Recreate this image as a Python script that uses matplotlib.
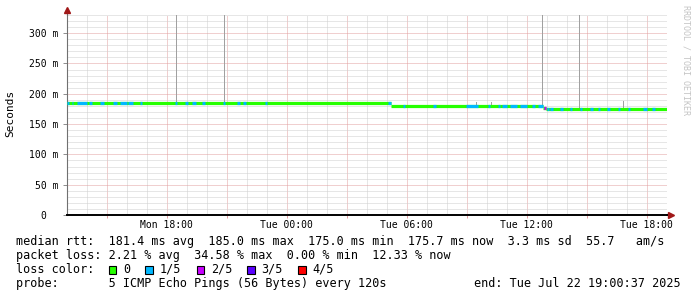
import numpy as np
import matplotlib
matplotlib.use('Agg')
import matplotlib.pyplot as plt
from matplotlib.patches import Rectangle
from matplotlib.ticker import MultipleLocator

# hours since Mon 13:00, median rtt in ms
seg_start = [0.0, 16.2, 23.8, 23.95]
seg_end = [16.2, 23.8, 23.95, 30.0]
seg_rtt = [185.0, 179.8, 177.0, 175.2]

# intervals (hours) where 1 of 5 / 2 of 5 pings were lost
loss_1of5 = [(0.0, 0.1), (0.25, 0.3), (0.5, 1.0), (1.1, 1.25), (1.65, 1.85),
             (2.3, 2.5), (2.65, 3.0), (3.05, 3.3), (3.65, 3.75), (5.4, 5.5),
             (5.9, 6.05), (6.25, 6.45), (6.75, 6.9), (7.8, 7.9), (8.5, 8.65),
             (8.8, 8.95), (9.9, 10.0), (16.05, 16.2), (16.8, 16.9), (18.3, 18.45),
             (19.95, 20.55), (21.05, 21.15), (21.55, 21.65), (21.75, 22.0),
             (22.15, 22.5), (22.65, 23.0), (23.25, 23.4), (23.55, 23.8),
             (24.0, 24.1), (24.15, 24.3), (24.65, 24.8), (25.15, 25.25),
             (25.65, 25.75), (26.15, 26.3), (26.55, 26.65), (27.0, 27.15),
             (27.55, 27.65), (28.05, 28.15), (28.8, 29.0), (29.25, 29.4)]
loss_2of5 = [(23.85, 23.95)]

# smoke (spread of the pings)
smoke_hour = [5.5, 7.9, 20.5, 21.25, 23.8, 25.65, 27.85]
smoke_top = [330, 330, 186.5, 186.0, 330, 330, 188.0]

tick_hours = [5, 11, 17, 23, 29]
tick_labels = ['Mon 18:00', 'Tue 00:00', 'Tue 06:00', 'Tue 12:00', 'Tue 18:00']
y_ticks = [0, 50, 100, 150, 200, 250, 300]
y_labels = ['0  ', '50 m', '100 m', '150 m', '200 m', '250 m', '300 m']

loss_names = ['0', '1/5', '2/5', '3/5', '4/5']
loss_colors = ['#26ff00', '#00b8ff', '#c800ff', '#5a00ff', '#ff0000']

line_rtt = 'median rtt:  181.4 ms avg  185.0 ms max  175.0 ms min  175.7 ms now  3.3 ms sd  55.7   am/s'
line_loss = 'packet loss: 2.21 % avg  34.58 % max  0.00 % min  12.33 % now'
line_probe = 'probe:       5 ICMP Echo Pings (56 Bytes) every 120s'
line_end = 'end: Tue Jul 22 19:00:37 2025'

W, H = 697, 297
MONO = 'DejaVu Sans Mono'


def rtt_at(h):
    for s, e, v in zip(seg_start, seg_end, seg_rtt):
        if s <= h <= e:
            return v
    return seg_rtt[-1]


def main():
    fig = plt.figure(figsize=(W / 100, H / 100), dpi=100)
    fig.patch.set_facecolor('white')
    ax = fig.add_axes([66.5 / W, (H - 215) / H, 600 / W, 200 / H])
    ax.set_xlim(0, 30)
    ax.set_ylim(0, 330)

    # smoke
    for h, top in zip(smoke_hour, smoke_top):
        base = rtt_at(h)
        ax.bar(h, top - base, bottom=base, width=0.09, color='#a0a0a0',
               linewidth=0, zorder=2)

    # median line
    for s, e, v in zip(seg_start, seg_end, seg_rtt):
        ax.plot([s, e], [v, v], color=loss_colors[0], lw=2.3,
                solid_capstyle='butt', zorder=3)
    for lst, col in [(loss_1of5, loss_colors[1]), (loss_2of5, loss_colors[2])]:
        for s, e in lst:
            v = rtt_at((s + e) / 2)
            ax.plot([s, e], [v, v], color=col, lw=2.3,
                    solid_capstyle='butt', zorder=4)

    # grid
    ax.set_axisbelow(True)
    major_x = np.arange(2, 30, 3)
    ax.set_xticks(major_x)
    ax.set_xticklabels([tick_labels[tick_hours.index(t)] if t in tick_hours else ''
                        for t in major_x])
    ax.xaxis.set_minor_locator(MultipleLocator(1))
    ax.set_yticks(y_ticks)
    ax.set_yticklabels(y_labels)
    ax.yaxis.set_minor_locator(MultipleLocator(10))
    ax.grid(which='major', color='#e2a0a0', linestyle=(0, (1, 1)), linewidth=0.72)
    ax.grid(which='minor', color='#cfcfcf', linestyle=(0, (1, 1)), linewidth=0.72)

    ax.tick_params(axis='x', which='major', length=2.5, color='#e2a0a0', width=0.72,
                   pad=1, labelsize=7)
    ax.tick_params(axis='y', which='major', length=3, color='#909090', width=0.72,
                   pad=3, labelsize=7)
    ax.tick_params(which='minor', length=0)
    for lab in ax.get_xticklabels() + ax.get_yticklabels():
        lab.set_fontfamily(MONO)

    for side in ['top', 'right']:
        ax.spines[side].set_visible(False)
    ax.spines['left'].set_color('#707070')
    ax.spines['left'].set_linewidth(0.8)
    ax.spines['bottom'].set_color('black')
    ax.spines['bottom'].set_linewidth(1.4)

    # axis arrows
    ax.plot([0, 0], [1, 1.02], transform=ax.transAxes, color='#707070', lw=0.8,
            clip_on=False)
    ax.plot([0], [1.025], transform=ax.transAxes, marker='^', ms=4.5,
            color='#a01818', clip_on=False)
    ax.plot([1, 1.005], [0, 0], transform=ax.transAxes, color='black', lw=1.4,
            clip_on=False)
    ax.plot([1.007], [0], transform=ax.transAxes, marker='>', ms=4.5,
            color='#a01818', clip_on=False)

    ax.set_ylabel('Seconds', fontfamily=MONO, fontsize=8)
    ax.yaxis.set_label_coords(-(66.5 - 15.5) / 600, 0.51)

    fig.text(686 / W, 1 - 60 / H, 'RRDTOOL / TOBI OETIKER', rotation=270,
             ha='center', va='center', fontsize=6, color='#c4c4c4', fontfamily=MONO)

    def px(x, y):
        return x / W, 1 - y / H

    fs = 8.5
    fig.text(*px(16, 241.5), line_rtt, fontfamily=MONO, fontsize=fs, va='center')
    fig.text(*px(16, 255.5), line_loss, fontfamily=MONO, fontsize=fs, va='center')
    fig.text(*px(16, 269.5), 'loss color:', fontfamily=MONO, fontsize=fs, va='center')
    box_x = [108.5, 145, 196.5, 247, 298]
    for bx, name, col in zip(box_x, loss_names, loss_colors):
        fig.patches.append(Rectangle(px(bx, 273.5), 7.5 / W, 7.5 / H,
                                     transform=fig.transFigure, facecolor=col,
                                     edgecolor='black', linewidth=0.8))
        fig.text(*px(bx + 14.5, 269.5), name, fontfamily=MONO, fontsize=fs, va='center')
    fig.text(*px(16, 283.5), line_probe, fontfamily=MONO, fontsize=fs, va='center')
    fig.text(*px(681, 283.5), line_end, fontfamily=MONO, fontsize=fs, va='center',
             ha='right')

    fig.savefig('out.png', dpi=100)


if __name__ == "__main__":
    main()
